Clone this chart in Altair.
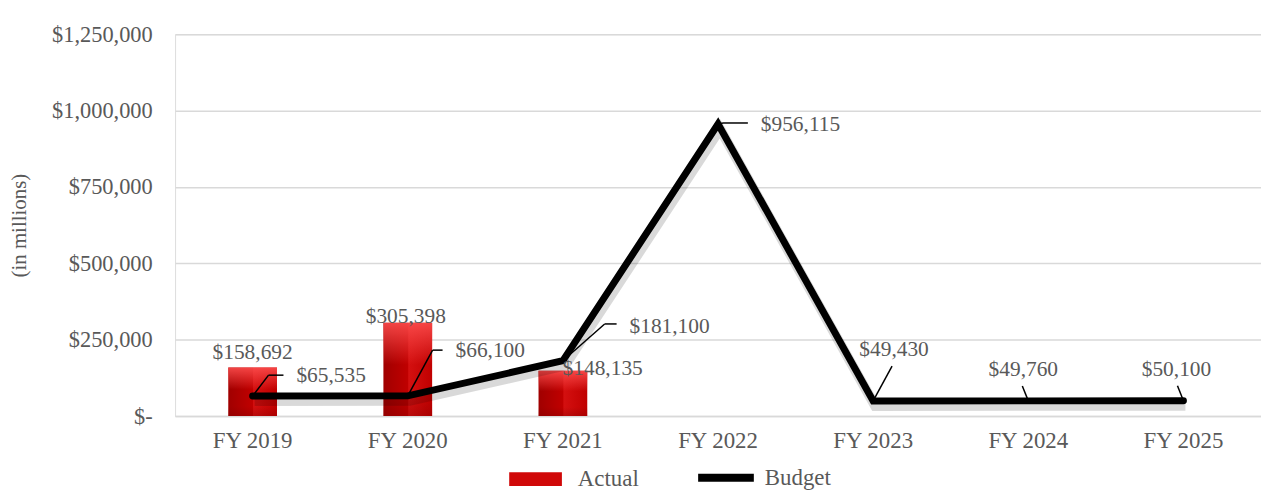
import altair as alt
import pandas as pd

# ---- data ----
years = ["FY 2019", "FY 2020", "FY 2021", "FY 2022", "FY 2023", "FY 2024", "FY 2025"]
actual_years = ["FY 2019", "FY 2020", "FY 2021"]
actual = [158692, 305398, 148135]
budget = [65535, 66100, 181100, 956115, 49430, 49760, 50100]
y_ticks = [0, 250000, 500000, 750000, 1000000, 1250000]

df_b = pd.DataFrame({"fy": years, "budget": budget})
df_b["label"] = ["$" + f"{v:,}" for v in budget]
df_a = pd.DataFrame({"fy": actual_years, "actual": actual})
df_a["label"] = ["$" + f"{v:,}" for v in actual]

# ---- style ----
FONT = "Liberation Serif"
TXT = "#595959"
GRID = "#d9d9d9"
FS = 21.5      # data labels
FS_X = 23      # x axis labels
FS_Y = 22.5    # y axis labels
FS_T = 21      # axis title
FS_L = 23      # legend labels
b_lab = [(44, -20, "left"), (48, -45, "left"), (67, -34, "left"), (43, 1, "left"),
         (21, -51, "center"), (-5, -31, "center"), (-7, -31, "center")]
lead_diag = [(16, -21), (25, -46), (42, -37), (5, -1), (19, -35), (-6, -15), (-6, -15)]
lead_h = [31, 35, 54, 30, None, None, None]
a_lab = [(0, -4), (-2, 5), (40, 9)]

xs = alt.Scale(domain=years, paddingInner=0, paddingOuter=0)
ys = alt.Scale(domain=[0, 1250000], nice=False)

X = alt.X("fy:N", scale=xs, sort=years,
          axis=alt.Axis(title=None, labelAngle=0, ticks=False, domainColor=GRID,
                        domainWidth=1.5, labelPadding=14, labelFont=FONT,
                        labelFontSize=FS_X, labelColor=TXT))
Yaxis = alt.Axis(values=y_ticks,
                 labelExpr="datum.value == 0 ? '$-' : '$' + format(datum.value, ',')",
                 title="(in millions)", titleFont=FONT, titleFontSize=FS_T,
                 titleFontWeight="normal", titleColor=TXT, titleX=-156, titleY=192,
                 titleAlign="center", titleBaseline="middle", titleAngle=-90,
                 labelPadding=23, ticks=False, domain=False, grid=True,
                 gridColor=GRID, gridWidth=1.5, labelFont=FONT, labelFontSize=FS_Y,
                 labelColor=TXT)

legend_common = dict(title=None, orient="none", direction="horizontal",
                     labelFont=FONT, labelFontSize=FS_L, labelColor=TXT)

base_a = alt.Chart(df_a)
base_b = alt.Chart(df_b)

bar_fill = alt.Gradient(gradient="linear", x1=0, x2=1, y1=0, y2=0,
                        stops=[alt.GradientStop(color="#a00000", offset=0),
                               alt.GradientStop(color="#c00000", offset=0.5),
                               alt.GradientStop(color="#d41010", offset=0.52),
                               alt.GradientStop(color="#c00000", offset=1)])
bar_top = alt.Gradient(gradient="linear", x1=0, x2=0, y1=0, y2=1,
                       stops=[alt.GradientStop(color="rgba(255,80,80,0.85)", offset=0),
                              alt.GradientStop(color="rgba(255,80,80,0.0)", offset=0.45),
                              alt.GradientStop(color="rgba(120,0,0,0.0)", offset=0.8),
                              alt.GradientStop(color="rgba(120,0,0,0.3)", offset=1)])

xb = alt.X("fy:N", scale=xs, sort=years)
ya = alt.Y("actual:Q", scale=ys)
yb = alt.Y("budget:Q", scale=ys)

bars = base_a.mark_bar(size=49, fill=bar_fill).encode(
    x=X, y=alt.Y("actual:Q", scale=ys, axis=Yaxis))
bars2 = base_a.mark_bar(size=49, fill=bar_top).encode(x=xb, y=ya)
# invisible layer only for the legend entry "Actual"
bar_leg = base_a.mark_bar(size=49, opacity=0).encode(
    x=xb, y=ya,
    fill=alt.Fill("s:N", scale=alt.Scale(domain=["Actual"], range=["#d00808"]),
                  legend=alt.Legend(legendX=336, legendY=421,
                                    symbolType="M-1,-0.26H1V0.26H-1Z", symbolSize=2809,
                                    symbolOpacity=1, symbolStrokeWidth=0,
                                    labelOffset=16, **legend_common))
).transform_calculate(s="'Actual'")

shadow = base_b.mark_line(color="#000000", opacity=0.15, strokeWidth=10, xOffset=2,
                          yOffset=5, strokeJoin="miter").encode(x=xb, y=yb)

line = base_b.mark_line(strokeWidth=7, strokeJoin="miter", strokeCap="round").encode(
    x=xb, y=yb,
    stroke=alt.Stroke("s:N", scale=alt.Scale(domain=["Budget"], range=["#000000"]),
                      legend=alt.Legend(legendX=522, legendY=414, symbolType="stroke",
                                        symbolSize=3136, symbolStrokeWidth=8,
                                        labelOffset=7, **legend_common))
).transform_calculate(s="'Budget'")

layers = [bars, bars2, bar_leg, shadow, line]

for i, fy in enumerate(years):
    sub = base_b.transform_filter(alt.datum.fy == fy)
    dx, dy = lead_diag[i]
    layers.append(sub.mark_rule(color="#000000", strokeWidth=1.5, x2Offset=dx,
                                y2Offset=dy).encode(x=xb, y=yb, x2="fy:N", y2="budget:Q"))
    if lead_h[i] is not None:
        layers.append(sub.mark_rule(color="#000000", strokeWidth=1.5, xOffset=dx,
                                    yOffset=dy, x2Offset=lead_h[i], y2Offset=dy).encode(
            x=xb, y=yb, x2="fy:N", y2="budget:Q"))
    lx, ly, al = b_lab[i]
    layers.append(sub.mark_text(font=FONT, fontSize=FS, color=TXT, dx=lx, dy=ly,
                                align=al, baseline="middle").encode(x=xb, y=yb, text="label:N"))

for i, fy in enumerate(actual_years):
    sub = base_a.transform_filter(alt.datum.fy == fy)
    lx, ly = a_lab[i]
    layers.append(sub.mark_text(font=FONT, fontSize=FS, color=TXT, dx=lx, dy=ly,
                                align="center", baseline="bottom").encode(
        x=xb, y=ya, text="label:N"))

chart = alt.layer(*layers).resolve_scale(fill="independent", stroke="independent").properties(
    width=1092, height=384,
    autosize=alt.AutoSizeParams(type="none"),
    padding={"left": 168, "top": 25, "right": 0, "bottom": 73},
).configure_view(stroke=None).configure(background="white")

chart.save("out.html", embed_options={"renderer": "svg", "actions": False})
